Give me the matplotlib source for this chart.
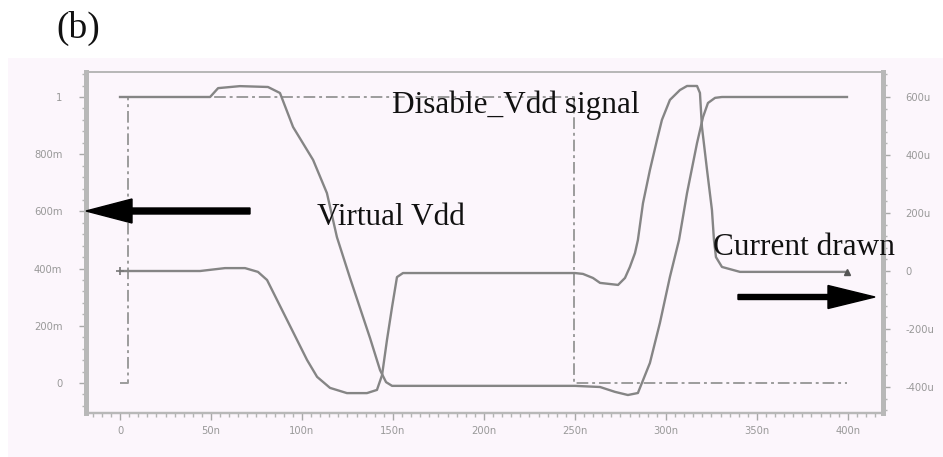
import matplotlib
matplotlib.use("Agg")
import matplotlib.pyplot as plt
from matplotlib.patches import Rectangle, FancyArrow
from matplotlib.ticker import MultipleLocator

# ---------------- data ----------------
# Virtual Vdd (left axis, volts), time in ns
t_vdd = [0, 49.5, 53.9, 65.9, 81.3, 87.9, 95.1, 106.1, 113.7, 119.2, 126.4, 131.9,
         137.4, 142.9, 146.2, 149.5, 250, 263.8, 272.0, 279.1, 284.6, 291.2, 296.7,
         302.2, 307.2, 311.6, 317.1, 320.4, 323.1, 327.0, 330.8, 399.5]
v_vdd = [1.0, 1.0, 1.031, 1.038, 1.035, 1.014, 0.895, 0.780, 0.664, 0.510, 0.367, 0.262,
         0.157, 0.045, 0.003, -0.010, -0.010, -0.014, -0.031, -0.042, -0.035, 0.070, 0.210,
         0.371, 0.500, 0.664, 0.839, 0.930, 0.979, 0.997, 1.0, 1.0]

# Current drawn (right axis, microamps), time in ns
t_cur = [0, 44.0, 57.7, 68.7, 75.8, 80.8, 86.3, 91.8, 97.3, 102.8, 108.3, 115.4, 124.7,
         135.7, 141.2, 144.0, 146.7, 149.5, 152.2, 155.5, 250, 254.4, 259.9, 263.8, 273.7,
         277.5, 280.2, 283.0, 284.6, 287.4, 291.2, 295.1, 297.8, 302.2, 307.7, 311.6,
         317.1, 318.7, 319.8, 322.6, 325.3, 326.4, 327.5, 330.8, 340.7, 399.5]
i_cur = [0, 0, 10, 10, -3, -31, -100, -169, -238, -307, -365, -403, -421,
         -421, -410, -359, -238, -124, -21, -7, -7, -10, -24, -41, -48,
         -24, 14, 62, 107, 234, 348, 452, 521, 590, 624, 638,
         638, 614, 497, 348, 210, 107, 48, 14, -3, -3]

# Disable_Vdd signal (left axis, volts)
t_dis = [0, 4.4, 4.4, 249.5, 249.5, 399.5]
v_dis = [0.0, 0.0, 1.0, 1.0, 0.0, 0.0]

x_ticks = [0, 50, 100, 150, 200, 250, 300, 350, 400]
x_labels = ["0", "50n", "100n", "150n", "200n", "250n", "300n", "350n", "400n"]
yl_ticks = [0, 0.2, 0.4, 0.6, 0.8, 1.0]
yl_labels = ["0", "200m", "400m", "600m", "800m", "1"]
yr_ticks = [-400, -200, 0, 200, 400, 600]
yr_labels = ["-400u", "-200u", "0", "200u", "400u", "600u"]

# ---------------- figure ----------------
W, H = 943, 457
fig = plt.figure(figsize=(W / 100, H / 100), dpi=100)
fig.patch.set_facecolor("white")

pink = "#fcf6fc"
fig.add_artist(Rectangle((8 / 100, 0), (W - 8) / 100, (H - 58) / 100,
                         transform=fig.dpi_scale_trans, facecolor=pink,
                         edgecolor="none", zorder=-10))

L, R, T, B = 86, 883, 72, 413
ax = fig.add_axes([L / W, 1 - B / H, (R - L) / W, (B - T) / H])
ax.set_facecolor("none")
ax2 = ax.twinx()
ax2.set_facecolor("none")

curve_col = "#858585"
ax.plot(t_dis, v_dis, color="#9c9c9c", lw=1.4, ls=(0, (6, 2, 1.5, 2)), zorder=2)
ax.plot(t_vdd, v_vdd, color=curve_col, lw=1.7, zorder=3)
ax2.plot(t_cur, i_cur, color=curve_col, lw=1.7, zorder=3)
ax2.plot([t_cur[-1]], [i_cur[-1]], marker="^", ms=4, color="#555555", zorder=4)
ax2.plot([t_cur[0]], [i_cur[0]], marker="+", ms=6, mew=1.2, color="#777777", zorder=4)

ax.set_xlim(-18.7, 419.3)
ax.set_ylim(-0.1049, 1.0874)
ax2.set_ylim(-489.6, 686.2)

lab_col = "#999999"
ax.set_xticks(x_ticks)
ax.set_xticklabels(x_labels)
ax.set_yticks(yl_ticks)
ax.set_yticklabels(yl_labels)
ax2.set_yticks(yr_ticks)
ax2.set_yticklabels(yr_labels)

ax.xaxis.set_minor_locator(MultipleLocator(5))
ax.yaxis.set_minor_locator(MultipleLocator(0.04))
ax2.yaxis.set_minor_locator(MultipleLocator(40))

for a in (ax, ax2):
    a.tick_params(which="major", direction="out", length=5, width=1.0,
                  color="#a8a8a8", labelsize=7.2, labelcolor=lab_col)
    a.tick_params(which="minor", direction="out", length=3, width=1.0,
                  color="#b4b4b4")
ax.tick_params(axis="y", pad=12)
ax2.tick_params(axis="y", pad=11)
ax.tick_params(axis="x", pad=4)

spine_col = "#b8b8b8"
for a in (ax, ax2):
    a.spines["left"].set_linewidth(3.6)
    a.spines["right"].set_linewidth(3.6)
    a.spines["top"].set_linewidth(1.4)
    a.spines["bottom"].set_linewidth(1.6)
    for s in a.spines.values():
        s.set_color(spine_col)

# ---------------- annotations ----------------
serif = ["Liberation Serif", "DejaVu Serif"]
def ftext(x, y, s, size):
    fig.text(x / W, 1 - y / H, s, fontsize=size, family=serif, color="#111111",
             ha="left", va="baseline")

ftext(56, 38, "(b)", 27)
ftext(392, 113, "Disable_Vdd signal", 22.5)
ftext(317, 225, "Virtual Vdd", 22.5)
ftext(713, 255, "Current drawn", 22.5)

def parrow(x0, x1, y, w, hw, hl):
    fig.add_artist(FancyArrow(x0 / 100, (H - y) / 100, (x1 - x0) / 100, 0,
                              width=w / 100, head_width=hw / 100, head_length=hl / 100,
                              length_includes_head=True, transform=fig.dpi_scale_trans,
                              color="black", zorder=10))

parrow(250, 86, 211, 6, 24, 46)
parrow(738, 875, 297, 5, 23, 47)

fig.savefig("out.png", dpi=100, facecolor="white")
